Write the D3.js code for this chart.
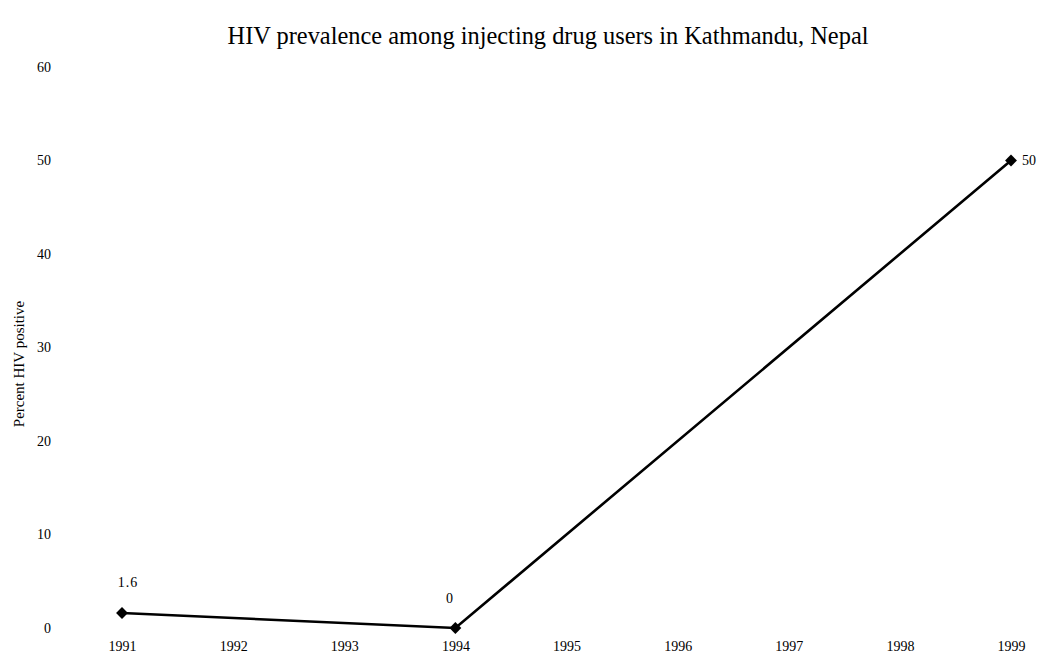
<!DOCTYPE html>
<html>
<head>
<meta charset="utf-8">
<script src="https://cdn.jsdelivr.net/npm/d3@7/dist/d3.min.js"></script>
<style>
  body { margin: 0; background: #fff; }
  svg text { font-family: "Liberation Serif", "Times New Roman", serif; fill: #000; }
</style>
</head>
<body>
<svg id="chart" width="1040" height="657"></svg>
<script>
const titleText = "HIV prevalence among injecting drug users in Kathmandu, Nepal";
const yAxisTitle = "Percent HIV positive";
const xTickYears = [1991, 1992, 1993, 1994, 1995, 1996, 1997, 1998, 1999];
const yTickValues = [0, 10, 20, 30, 40, 50, 60];
const pointYears = [1991, 1994, 1999];
const pointValues = [1.6, 0, 50];
const pointLabels = ["1.6", "0", "50"];

const svg = d3.select("#chart");
const x = d3.scaleLinear().domain([1991, 1999]).range([122, 1011]);
const y = d3.scaleLinear().domain([0, 60]).range([628, 67]);

// Title
svg.append("text")
  .attr("x", 548).attr("y", 44)
  .attr("text-anchor", "middle")
  .style("font-size", "24.4px")
  .text(titleText);

// X axis
const xAxis = svg.append("g")
  .attr("transform", "translate(0,638)")
  .call(d3.axisBottom(x).tickValues(xTickYears).tickFormat(d3.format("d")).tickSize(0));
xAxis.select(".domain").remove();
xAxis.selectAll("text").style("font-size", "14px").style("font-family", "Liberation Serif").attr("dy", "0.71em");

// Y axis
const yAxis = svg.append("g")
  .attr("transform", "translate(51,0)")
  .call(d3.axisLeft(y).tickValues(yTickValues).tickSize(0).tickPadding(0));
yAxis.select(".domain").remove();
yAxis.selectAll("text").style("font-size", "14px").style("font-family", "Liberation Serif");

// Y axis title
svg.append("text")
  .attr("transform", "translate(24,364) rotate(-90)")
  .attr("text-anchor", "middle")
  .style("font-size", "15px")
  .text(yAxisTitle);

const data = pointYears.map((yr, i) => ({ year: yr, value: pointValues[i], label: pointLabels[i] }));

// Line
svg.append("path")
  .datum(data)
  .attr("fill", "none")
  .attr("stroke", "#000")
  .attr("stroke-width", 2.6)
  .attr("d", d3.line().x(d => x(d.year)).y(d => y(d.value)));

// Markers
svg.selectAll(".pt")
  .data(data)
  .enter().append("path")
  .attr("class", "pt")
  .attr("transform", d => `translate(${x(d.year)},${y(d.value)})`)
  .attr("d", d3.symbol().type(d3.symbolDiamond2).size(90))
  .attr("fill", "#000");

// Data labels
const labelOffsets = [[6, -31], [-6, -30], [11, 0]];
svg.selectAll(".lbl")
  .data(data)
  .enter().append("text")
  .attr("class", "lbl")
  .attr("x", (d, i) => x(d.year) + labelOffsets[i][0])
  .attr("y", (d, i) => y(d.value) + labelOffsets[i][1])
  .attr("dy", "0.35em")
  .attr("text-anchor", (d, i) => i === 2 ? "start" : "middle")
  .style("font-size", "14px")
  .style("letter-spacing", (d, i) => i === 0 ? "1px" : "0px")
  .text(d => d.label);
</script>
</body>
</html>
